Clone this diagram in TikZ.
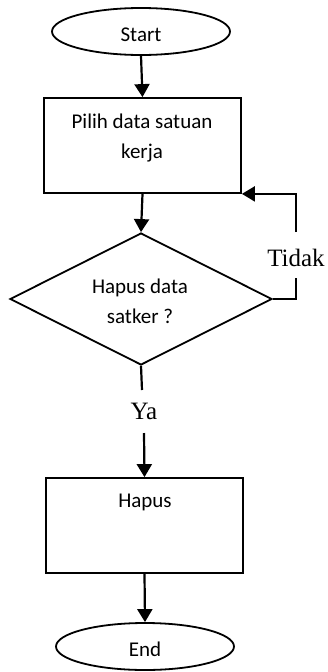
\documentclass[tikz,border=0pt]{standalone}
\usepackage{fontspec}
\setmainfont{Carlito}
\newfontfamily\tnr{Liberation Serif}
\usetikzlibrary{shapes.geometric,arrows.meta}
\begin{document}
\begin{tikzpicture}[x=1pt,y=-1pt,
  shp/.style={draw,line width=1.8pt,inner sep=0pt},
  term/.style={shp,ellipse,minimum width=178pt,minimum height=47pt},
  proc/.style={shp,rectangle,minimum width=197pt,minimum height=95pt},
  deci/.style={shp,diamond,minimum width=262pt,minimum height=132pt},
  txt/.style={font=\fontsize{21}{30}\selectfont,align=center,inner sep=0pt},
  lbl/.style={font=\tnr\fontsize{25}{28}\selectfont,inner sep=0pt},
  conn/.style={line width=2.2pt},
  arr/.style={conn,-{Triangle[length=13pt,width=15pt]}}]
\useasboundingbox (0,0) rectangle (328,672);
\node[term] (start) at (141,31.5) {};
\node[txt] (starttxt) at (141,35) {Start};
\node[proc] (box1) at (142.5,145.5) {};
\node[txt] (box1txt) at (142,138) {Pilih data satuan\\kerja};
\node[deci] (dia) at (141,299) {};
\node[txt] (diatxt) at (140,301) {Hapus data\\satker ?};
\node[proc] (box2) at (144.5,525.5) {};
\node[txt] (box2txt) at (145,502) {Hapus};
\node[term] (end) at (145,646.5) {};
\node[txt] (endtxt) at (145,649) {End};
\node[lbl] (tidak) at (296,258) {Tidak};
\node[lbl] (ya) at (144,411) {Ya};
\coordinate (t1) at (296,278);
\coordinate (t2) at (296,232);
\coordinate (y1) at (142,390);
\coordinate (y2) at (144,433);
\draw[arr] (start.south) -- (box1.north);
\draw[arr] (box1.south) -- (dia.north);
\draw[conn] (dia.east) -| (t1);
\draw[arr] (t2) |- (box1.south east);
\draw[conn] (dia.south) -- (y1);
\draw[arr] (y2) -- (box2.north);
\draw[arr] (box2.south) -- (end.north);
\end{tikzpicture}
\end{document}
